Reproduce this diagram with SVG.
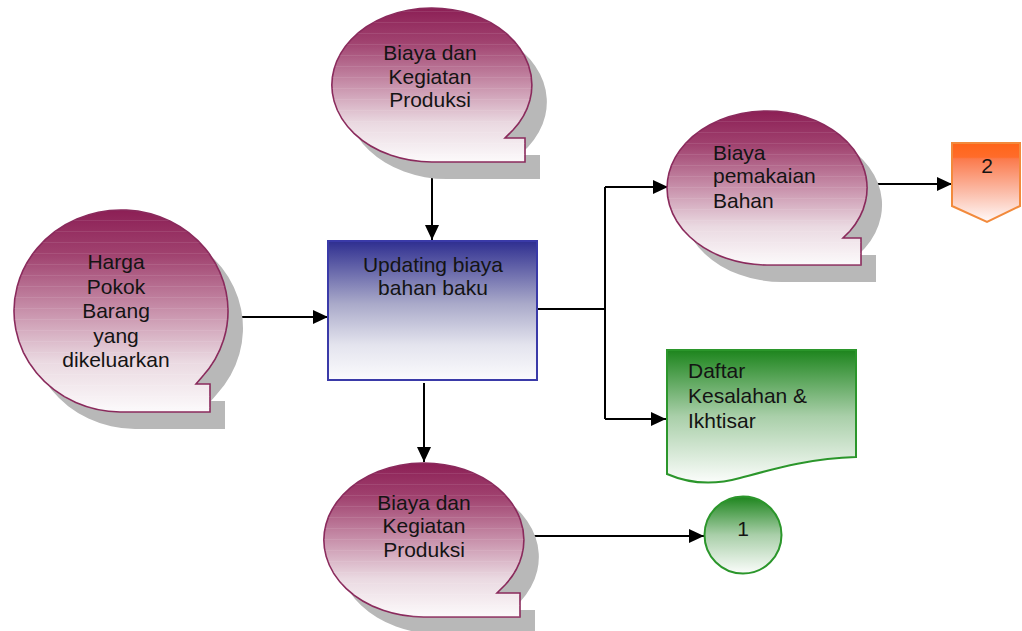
<svg xmlns="http://www.w3.org/2000/svg" width="1022" height="631" viewBox="0 0 1022 631" font-family="'Liberation Sans', Arimo, Arial, sans-serif">
<defs>
<linearGradient id="gTape" x1="0" y1="0" x2="0" y2="1">
<stop offset="0" stop-color="#8c1f55"/>
<stop offset="0.22" stop-color="#a0426f"/>
<stop offset="0.5" stop-color="#c891ab"/>
<stop offset="0.75" stop-color="#ead9e1"/>
<stop offset="1" stop-color="#fcfafb"/>
</linearGradient>
<linearGradient id="gProc" x1="0" y1="0" x2="0" y2="1">
<stop offset="0" stop-color="#2e2e90"/>
<stop offset="0.45" stop-color="#a9a9c9"/>
<stop offset="0.75" stop-color="#e4e4ee"/>
<stop offset="1" stop-color="#fbfbfd"/>
</linearGradient>
<linearGradient id="gGreen" x1="0" y1="0" x2="0" y2="1">
<stop offset="0" stop-color="#1d851d"/>
<stop offset="0.5" stop-color="#a9cfa9"/>
<stop offset="1" stop-color="#fbfdfb"/>
</linearGradient>
<linearGradient id="gOrange" x1="0" y1="0" x2="0" y2="1">
<stop offset="0" stop-color="#ff6418"/>
<stop offset="0.18" stop-color="#ff6c2a"/>
<stop offset="0.2" stop-color="#fb7a4c"/>
<stop offset="0.6" stop-color="#fbb9a4"/>
<stop offset="1" stop-color="#fffafa"/>
</linearGradient>
<pattern id="stripes" width="12" height="11" patternUnits="userSpaceOnUse">
<rect x="0" y="0" width="12" height="1" fill="#ffffff" fill-opacity="0.09"/>
</pattern>
<marker id="arr" markerWidth="16" markerHeight="14" refX="15" refY="7" orient="auto" markerUnits="userSpaceOnUse">
<path d="M0,0 L15,7 L0,14 Z" fill="#000"/>
</marker>
<style>
.tape{fill:url(#gTape);stroke:#8a2a5c;stroke-width:1.6}
.stripe{fill:url(#stripes);stroke:none}
.shadow{fill:#b8b8b8}
.t{font-family:"Liberation Sans",Arimo,Arial,sans-serif;font-size:21px;fill:#141414}
.c{text-anchor:middle}
.con{fill:none;stroke:#000;stroke-width:2}
</style>
</defs>

<g id="connectors">
<path class="con" d="M432,164 V240" marker-end="url(#arr)"/>
<path class="con" d="M225,317 H328" marker-end="url(#arr)"/>
<path class="con" d="M537,309 H605"/>
<path class="con" d="M605,187 V419"/>
<path class="con" d="M605,187 H668" marker-end="url(#arr)"/>
<path class="con" d="M605,419 H666" marker-end="url(#arr)"/>
<path class="con" d="M424,383 V462" marker-end="url(#arr)"/>
<path class="con" d="M866,184 H952" marker-end="url(#arr)"/>
<path class="con" d="M523,536 H704" marker-end="url(#arr)"/>
</g>

<g id="tape-top">
<path class="shadow" transform="translate(15,17)" d="M432,162 L525,162 L525,138 L505,138 L513,130 A100,77 0 1 0 432,162 Z"/>
<path class="tape" d="M432,162 L525,162 L525,138 L505,138 L513,130 A100,77 0 1 0 432,162 Z"/>
<path class="stripe" d="M432,162 L525,162 L525,138 L505,138 L513,130 A100,77 0 1 0 432,162 Z"/>
<text class="t c" x="430" y="60">Biaya dan</text>
<text class="t c" x="430" y="84">Kegiatan</text>
<text class="t c" x="430" y="107">Produksi</text>
</g>

<g id="tape-left">
<path class="shadow" transform="translate(15,17)" d="M120,412 L210,412 L210,384 L196,384 L202,377 A107,101 0 1 0 120,412 Z"/>
<path class="tape" d="M120,412 L210,412 L210,384 L196,384 L202,377 A107,101 0 1 0 120,412 Z"/>
<path class="stripe" d="M120,412 L210,412 L210,384 L196,384 L202,377 A107,101 0 1 0 120,412 Z"/>
<text class="t c" x="116" y="269">Harga</text>
<text class="t c" x="116" y="294">Pokok</text>
<text class="t c" x="116" y="318">Barang</text>
<text class="t c" x="116" y="343">yang</text>
<text class="t c" x="116" y="367">dikeluarkan</text>
</g>

<g id="process">
<rect x="328" y="241" width="209" height="139" fill="url(#gProc)" stroke="#3a3aa8" stroke-width="2"/>
<text class="t c" x="433" y="272">Updating biaya</text>
<text class="t c" x="433" y="295">bahan baku</text>
</g>

<g id="tape-right">
<path class="shadow" transform="translate(15,17)" d="M767,265 L861,265 L861,238 L843,238 L850,231 A100,77 0 1 0 767,265 Z"/>
<path class="tape" d="M767,265 L861,265 L861,238 L843,238 L850,231 A100,77 0 1 0 767,265 Z"/>
<path class="stripe" d="M767,265 L861,265 L861,238 L843,238 L850,231 A100,77 0 1 0 767,265 Z"/>
<text class="t" x="713" y="160">Biaya</text>
<text class="t" x="713" y="183">pemakaian</text>
<text class="t" x="713" y="208">Bahan</text>
</g>

<g id="offpage-2">
<path d="M952,143 H1020 V206 L987,222 L952,206 Z" fill="url(#gOrange)" stroke="#f28a3c" stroke-width="2"/>
<text class="t c" x="987" y="173">2</text>
</g>

<g id="document">
<path d="M667,350 H856 V457 C810,458 770,470 740,478 C715,485 690,484 667,474 Z" fill="url(#gGreen)" stroke="#2b962b" stroke-width="2"/>
<text class="t" x="688" y="378">Daftar</text>
<text class="t" x="688" y="403">Kesalahan &amp;</text>
<text class="t" x="688" y="428">Ikhtisar</text>
</g>

<g id="tape-bottom">
<path class="shadow" transform="translate(15,17)" d="M424,617 L520,617 L520,593 L497,593 L505,585 A100,77 0 1 0 424,617 Z"/>
<path class="tape" d="M424,617 L520,617 L520,593 L497,593 L505,585 A100,77 0 1 0 424,617 Z"/>
<path class="stripe" d="M424,617 L520,617 L520,593 L497,593 L505,585 A100,77 0 1 0 424,617 Z"/>
<text class="t c" x="424" y="510">Biaya dan</text>
<text class="t c" x="424" y="533">Kegiatan</text>
<text class="t c" x="424" y="557">Produksi</text>
</g>

<g id="connector-1">
<circle cx="743" cy="535" r="38.5" fill="url(#gGreen)" stroke="#2b962b" stroke-width="2"/>
<text class="t c" x="743" y="536">1</text>
</g>
</svg>
